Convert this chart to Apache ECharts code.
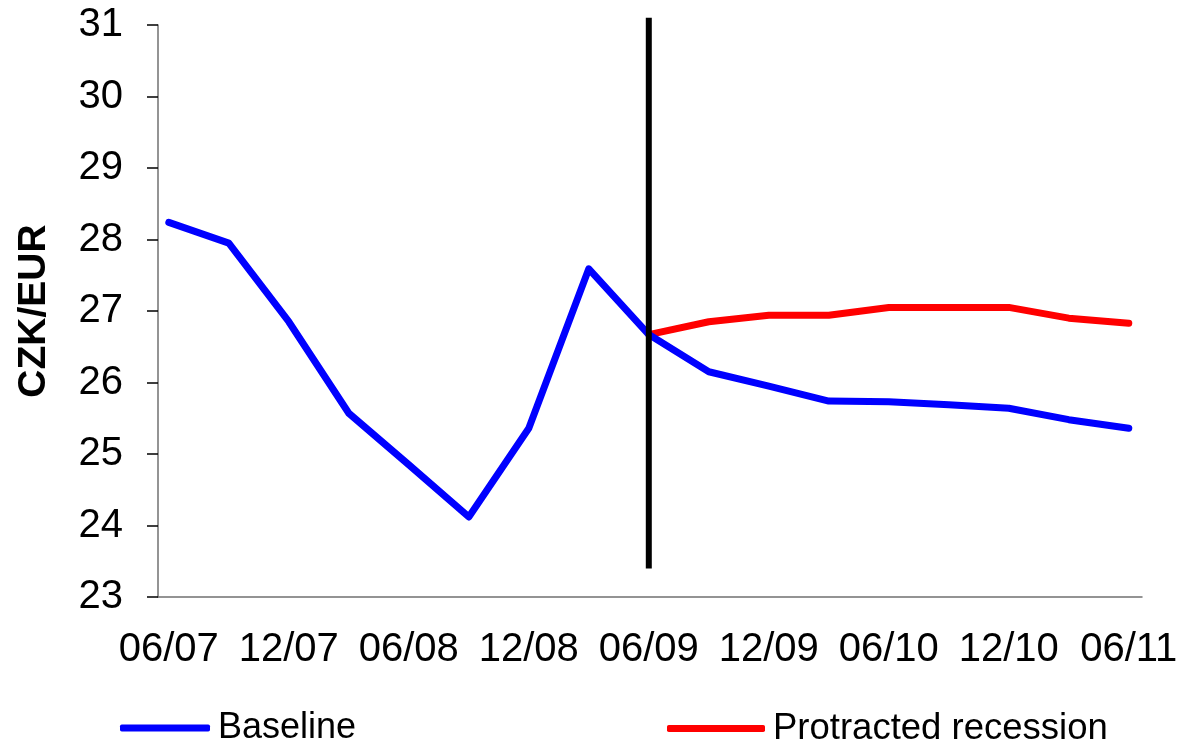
<!DOCTYPE html>
<html>
<head>
<meta charset="utf-8">
<script src="https://cdn.jsdelivr.net/npm/echarts@6/dist/echarts.min.js"></script>
<style>
  html, body { margin: 0; padding: 0; background: #fff; }
  #chart { width: 1182px; height: 741px; }
</style>
</head>
<body>
<div id="chart"></div>
<script>
// Quarterly periods (MM/YY)
const periods = ['06/07','09/07','12/07','03/08','06/08','09/08','12/08','03/09','06/09',
                 '09/09','12/09','03/10','06/10','09/10','12/10','03/11','06/11'];
// CZK/EUR exchange rate, baseline scenario
const baseline = [28.24, 27.95, 26.85, 25.57, 24.85, 24.12, 25.36, 27.59, 26.67,
                  26.15, 25.95, 25.74, 25.73, 25.69, 25.64, 25.48, 25.36];
// Protracted recession scenario (starts at the forecast origin)
const recession = [null, null, null, null, null, null, null, null, 26.67,
                   26.85, 26.94, 26.94, 27.05, 27.05, 27.05, 26.90, 26.83];
// Forecast origin marker
const forecastStart = '06/09';
const markerRange = [23.4, 31.1];
// Labelled periods on the horizontal axis
const labelledPeriods = ['06/07','12/07','06/08','12/08','06/09','12/09','06/10','12/10','06/11'];
const yTicks = [23, 24, 25, 26, 27, 28, 29, 30, 31];

const font = '"Liberation Sans", Arial, sans-serif';
const toPairs = arr => arr.map((v, i) => (v == null ? [i, null] : [i, v]));
const startIdx = periods.indexOf(forecastStart);

const chart = echarts.init(document.getElementById('chart'));
chart.setOption({
  animation: false,
  backgroundColor: '#fff',
  grid: { left: 158, right: 40, top: 25, bottom: 144 },
  legend: [
    {
      data: ['Baseline'], left: 115, top: 705, icon: 'roundRect',
      itemWidth: 90, itemHeight: 7, itemGap: 0,
      textStyle: { fontFamily: font, fontSize: 36, color: '#000', padding: [0, 0, 0, 3] }
    },
    {
      data: ['Protracted recession'], left: 662, top: 705, icon: 'roundRect',
      itemWidth: 98, itemHeight: 7, itemGap: 0,
      textStyle: { fontFamily: font, fontSize: 36.5, color: '#000', padding: [0, 0, 0, 3] }
    }
  ],
  xAxis: {
    type: 'value',
    min: -0.18,
    max: 16.22,
    splitLine: { show: false },
    axisLine: { onZero: false, lineStyle: { color: '#707070', width: 1.5 } },
    axisTick: { show: false },
    axisLabel: {
      customValues: labelledPeriods.map(p => periods.indexOf(p)),
      formatter: v => periods[Math.round(v)],
      fontFamily: font, fontSize: 40, color: '#000', margin: 33
    }
  },
  yAxis: {
    type: 'value',
    min: yTicks[0],
    max: yTicks[yTicks.length - 1],
    interval: 1,
    name: 'CZK/EUR',
    nameLocation: 'middle',
    nameGap: 104,
    nameMoveOverlap: false,
    nameTextStyle: { fontFamily: font, fontSize: 39, fontWeight: 'bold', color: '#000' },
    splitLine: { show: false },
    axisLine: { show: true, onZero: false, lineStyle: { color: '#707070', width: 1.5 } },
    axisTick: { show: true, length: 11, lineStyle: { color: '#000', width: 1.5 } },
    axisLabel: { fontFamily: font, fontSize: 40, color: '#000', margin: 35 }
  },
  series: [
    {
      name: 'Baseline', type: 'line', data: toPairs(baseline),
      symbol: 'none', color: '#0000ff',
      lineStyle: { width: 7, color: '#0000ff', cap: 'round', join: 'round' }, z: 3
    },
    {
      name: 'Protracted recession', type: 'line', data: toPairs(recession),
      symbol: 'none', color: '#ff0000',
      lineStyle: { width: 7, color: '#ff0000', cap: 'round', join: 'round' }, z: 2
    },
    {
      name: 'marker', type: 'line', clip: false,
      data: markerRange.map(v => [startIdx, v]),
      symbol: 'none', silent: true,
      lineStyle: { width: 6, color: '#000', cap: 'butt' }, z: 4
    }
  ]
});
</script>
</body>
</html>
